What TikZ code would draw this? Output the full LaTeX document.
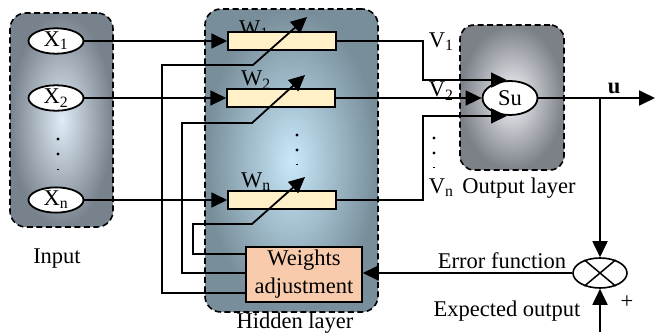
\documentclass[tikz,border=0pt]{standalone}
\usepackage{fontspec}
\setmainfont{Liberation Serif}
\usetikzlibrary{shapes.geometric,arrows.meta,calc}
\definecolor{wfill}{HTML}{FFF0C8}
\definecolor{wafill}{HTML}{F8CBAD}
\definecolor{inIn}{HTML}{E0ECF8}
\definecolor{inOut}{HTML}{78828C}
\definecolor{hidIn}{HTML}{C8E8FA}
\definecolor{hidOut}{HTML}{788E9A}
\definecolor{outIn}{HTML}{F4F8FC}
\definecolor{outOut}{HTML}{7C8087}
\begin{document}
\begin{tikzpicture}[x=1pt,y=-1pt,
  font=\fontsize{22.5}{28}\selectfont,
  line width=1.8pt,
  arr/.style={-{Triangle[length=16pt,width=15pt]}},
  layer/.style={draw, dashed, dash pattern=on 6pt off 3.5pt, rounded corners=16pt, line width=1.6pt, inner sep=0pt},
  xnode/.style={ellipse, draw, fill=white, minimum width=55pt, minimum height=24pt, inner sep=0pt},
  wbox/.style={draw, fill=wfill, line width=1.5pt, minimum width=108pt, minimum height=18pt, inner sep=0pt},
  lbl/.style={inner sep=0pt},
  dotmark/.style={fill=black, draw=none}
]
\useasboundingbox (0,0) rectangle (655,332);

% layer boxes
\node[layer, minimum width=103pt, minimum height=214pt, inner color=inIn, outer color=inOut] (inbox) at (61.5,120) {};
\node[layer, minimum width=173pt, minimum height=303pt, inner color=hidIn, outer color=hidOut] (hidbox) at (291.5,160.5) {};
\node[layer, minimum width=104pt, minimum height=145pt, rounded corners=14pt, inner color=outIn, outer color=outOut] (outbox) at (512,97.5) {};

% input nodes
\node[xnode] (X1) at (56,41) {X\textsubscript{1}};
\node[xnode] (X2) at (56,98) {X\textsubscript{2}};
\node[xnode] (Xn) at (56,200) {X\textsubscript{n}};
\fill[dotmark] (58,139) circle (1.7pt);
\fill[dotmark] (58,154) circle (1.7pt);
\draw[line width=1pt] (57,169) -- (59,169);

% weight labels
\node[lbl] (W1l) at (254,30) {W\textsubscript{1}};
\node[lbl] (W2l) at (256,80) {W\textsubscript{2}};
\node[lbl] (Wnl) at (256,182) {W\textsubscript{n}};

% weight boxes
\node[wbox] (W1) at (282,41) {};
\node[wbox] (W2) at (281,98) {};
\node[wbox] (Wn) at (282,200) {};
\fill[dotmark] (297,135) circle (1.7pt);
\fill[dotmark] (297,150) circle (1.7pt);
\draw[line width=1pt] (296,164) -- (298,164);

% weights adjustment
\node[draw, fill=wafill, line width=1.5pt, minimum width=116pt, minimum height=55pt, inner sep=0pt, align=center] (WA) at (304,274.5) {Weights\\adjustment};

% output node
\node[ellipse, draw, fill=white, minimum width=55pt, minimum height=34pt, inner sep=0pt] (Su) at (510,98) {Su};

% sum/error node
\node[ellipse, draw, fill=white, line width=1.6pt, minimum width=54pt, minimum height=30pt, inner sep=0pt] (sum) at (600,273) {};
\draw[line width=1.5pt] (sum.40) -- (sum.220) (sum.140) -- (sum.320);

% input arrows
\draw[arr] (X1.east) -- (W1.west);
\draw[arr] (X2.east) -- (W2.west);
\draw[arr] (Xn.east) -- (Wn.west);

% feedback lines with adjustable arrows
\coordinate (d1s) at (253,65); \coordinate (d1e) at (307,17);
\coordinate (d2s) at (252,123); \coordinate (d2e) at (305,75);
\coordinate (dns) at (252,224); \coordinate (dne) at (305,177);
\draw[arr] ([yshift=-18.5pt]WA.west) -| (162,65) -- (d1s) -- (d1e);
\draw[arr] ([yshift=1.5pt]WA.west) -| (182,123) -- (d2s) -- (d2e);
\draw[arr] ([yshift=20.5pt]WA.west) -| (193,224) -- (dns) -- (dne);

% weight outputs to Su
\draw[arr] (W1.east) -- (423,41) |- ([xshift=-3pt]Su.north);
\draw[arr] (W2.east) -- (Su.west);
\draw[arr] (Wn.east) -- (423,200) |- ([xshift=-3pt]Su.south);

\node[lbl, anchor=west] (V1) at (428,42) {V\textsubscript{1}};
\node[lbl, anchor=west] (V2) at (428,91) {V\textsubscript{2}};
\node[lbl, anchor=west] (Vn) at (428,188) {V\textsubscript{n}};
\fill[dotmark] (434,138) circle (1.7pt);
\fill[dotmark] (434,153) circle (1.7pt);
\draw[line width=1pt] (433,167) -- (435,167);

% output u
\coordinate (uend) at (655,98);
\draw[arr] (Su.east) -- (uend);
\node[lbl] (u) at (614,88) {\textbf{u}};
\draw[arr] (sum.north |- Su.east) -- (sum.north);

% error and expected
\draw[arr] (sum.west) -- (sum.west -| WA.east);
\coordinate (eo) at (600,332);
\draw[arr] (eo) -- (sum.south);

% labels
\node[lbl] (inlbl) at (57,259) {Input};
\node[lbl] (hidlbl) at (295,323) {Hidden layer};
\node[lbl] (outlbl) at (519,188) {Output layer};
\node[lbl] (errlbl) at (502,261) {Error function};
\node[lbl] (explbl) at (507,311) {Expected output};
\node[lbl] (plus) at (627,302) {+};
\end{tikzpicture}
\end{document}
